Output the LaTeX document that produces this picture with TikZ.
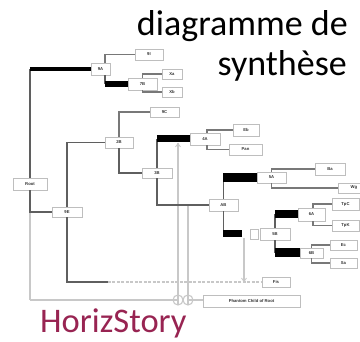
\documentclass[tikz,border=0pt]{standalone}
\usepackage{fontspec}
\setmainfont{Carlito}
\newfontfamily\boxfont{Liberation Sans}
\definecolor{hsred}{RGB}{152,36,82}
\definecolor{boxgray}{RGB}{190,190,190}
\definecolor{lndark}{RGB}{95,95,95}
\definecolor{lnmid}{RGB}{120,120,120}
\definecolor{lnlight}{RGB}{200,200,200}
\tikzset{
  bx/.style={draw=boxgray, line width=0.9pt, fill=white, inner sep=0pt,
    font=\boxfont\bfseries\fontsize{4.2}{4.2}\selectfont, text=black!80},
  lk/.style={draw=lndark, line width=1.6pt},
  lc/.style={draw=lnmid, line width=1.1pt},
  ph/.style={draw=lnlight, line width=1.1pt},
  phd/.style={draw=lnlight, line width=1.2pt, dash pattern=on 3pt off 1.5pt},
  bar/.style={draw=black, line cap=butt},
  title/.style={font=\fontsize{36}{40}\selectfont, text=black},
}
\begin{document}
\begin{tikzpicture}[x=1pt,y=-1pt]
\clip (0,0) rectangle (360,342);
\fill[white] (0,0) rectangle (360,342);

% titles
\node[title, anchor=base east, inner sep=0pt] (t1) at (348,36) {diagramme de};
\node[title, anchor=base east, inner sep=0pt] (t2) at (347,76) {synthèse};
\node[font=\fontsize{34.5}{38}\selectfont, text=hsred, anchor=base west, inner sep=0pt] (hs) at (40,332.5) {HorizStory};

% coordinates for junctions
\coordinate (j5B) at (242,233.5);
\coordinate (fisj) at (108,282);
\coordinate (c1) at (178,300);
\coordinate (c2) at (188,300);
\coordinate (p1top) at (178,143);
\coordinate (p2top) at (188,205);
\coordinate (p3top) at (244,238);
\coordinate (p3bot) at (244,282);
\coordinate (rootbot) at (30,300);

% phantom (light) connectors first
\draw[ph] (rootbot) -- (c1);
\draw[ph] (c2) -- (203,300);
\draw[ph] (30,212) -- (rootbot);
\draw[ph] (p1top) -- ([yshift=-5pt]c1);
\draw[ph] (p2top) -- ([yshift=-5pt]c2);
\draw[ph] (c1) circle (5pt);
\draw[ph] (c2) circle (5pt);
\draw[ph] (p3top) -- (p3bot);
\draw[ph, line width=0.8pt] (241.5,278) -- (244,281.5) -- (246.5,278);
\draw[ph, line width=0.8pt] (175.5,147) -- (178,143.5) -- (180.5,147);
\draw[phd] (fisj) -- (262,282);

% nodes
\node[bx, minimum width=34pt, minimum height=12pt] (root) at (30,184) {Root};
\node[bx, minimum width=19pt, minimum height=12pt] (n9A) at (100.5,69) {9A};
\node[bx, minimum width=28pt, minimum height=11pt] (n9I) at (149,54.5) {9I};
\node[bx, minimum width=29pt, minimum height=12pt] (n7B) at (142.5,84) {7B};
\node[bx, minimum width=20pt, minimum height=10pt] (nXa) at (172,74) {Xa};
\node[bx, minimum width=20pt, minimum height=10pt] (nXb) at (172,92) {Xb};
\node[bx, minimum width=29pt, minimum height=10pt] (n9C) at (164.5,112) {9C};
\node[bx, minimum width=28pt, minimum height=11pt] (n2B) at (119,142.5) {2B};
\node[bx, minimum width=30pt, minimum height=10pt] (n3B) at (157,173) {3B};
\node[bx, minimum width=30pt, minimum height=10pt] (n9E) at (67,212) {9E};
\node[bx, minimum width=30pt, minimum height=12pt] (n4A) at (205,139) {4A};
\node[bx, minimum width=26pt, minimum height=12pt] (nEb) at (246,130) {Eb};
\node[bx, minimum width=33pt, minimum height=11pt] (nPan) at (245.5,149.5) {Pan};
\node[bx, minimum width=29pt, minimum height=11pt] (n5A) at (271.5,177.5) {5A};
\node[bx, minimum width=30pt, minimum height=12pt] (nBa) at (330,169) {Ba};
\node[bx, minimum width=32pt, minimum height=10pt] (nWg) at (354,188) {Wg};
\node[bx, minimum width=29pt, minimum height=12pt] (nAB) at (223.5,205) {AB};
\node[bx, minimum width=27pt, minimum height=13pt] (n6A) at (311.5,214.5) {6A};
\node[bx, minimum width=27pt, minimum height=12pt] (nTpC) at (345.5,204) {TpC};
\node[bx, minimum width=27pt, minimum height=11pt] (nTpK) at (345.5,225.5) {TpK};
\node[bx, minimum width=8pt, minimum height=10pt] (mk) at (254,234) {};
\node[bx, minimum width=30pt, minimum height=12pt] (n5B) at (275,234) {5B};
\node[bx, minimum width=23pt, minimum height=10pt] (n6B) at (311.5,253) {6B};
\node[bx, minimum width=27pt, minimum height=10pt] (nEc) at (343.5,245) {Ec};
\node[bx, minimum width=27pt, minimum height=10pt] (nSa) at (343.5,263) {Sa};
\node[bx, minimum width=28pt, minimum height=10pt] (nFis) at (276,282) {Fis};
\node[bx, minimum width=97pt, minimum height=12pt] (nPh) at (251.5,301) {Phantom Child of Root};

% connectors
% Root -> 9A
\draw[lk] (root.north) -- (root.north |- n9A.west);
\draw[bar, line width=4pt] (root.north |- n9A.west) -- (n9A.west);
% 9A -> 9I, 7B
\draw[lc] ([xshift=4.5pt]n9A.north) |- (n9I.west);
\draw[lk] ([xshift=4.5pt]n9A.south) -- ([xshift=4.5pt]n9A.south |- n7B.west);
\draw[bar, line width=6pt] ([xshift=4.5pt]n9A.south |- n7B.west) -- (n7B.west);
% 7B -> Xa, Xb
\draw[lc] (n7B.north) |- (nXa.west);
\draw[lc] (n7B.south) |- (nXb.west);
% Root -> 9E
\draw[lk] (root.south) |- (n9E.west);
% 9E -> 2B
\draw[lk] (n9E.north) |- (n2B.west);
% 9E -> Fis
\draw[lk] (n9E.south) |- (fisj);
% 2B -> 9C, 3B
\draw[lc] (n2B.north) |- (n9C.west);
\draw[lk] (n2B.south) |- (n3B.west);
% 3B -> 4A
\draw[lk] (n3B.north) -- (n3B.north |- n4A.west);
\draw[bar, line width=7pt] (n3B.north |- n4A.west) -- (n4A.west);
% 3B -> AB
\draw[lk] (n3B.south) |- (nAB.west);
% 4A -> Eb, Pan
\draw[lc] ([xshift=2pt]n4A.north) |- (nEb.west);
\draw[lc] ([xshift=2pt]n4A.south) |- (nPan.west);
% AB -> 5A
\draw[lk] (nAB.north) -- (nAB.north |- n5A.west);
\draw[bar, line width=9pt] (nAB.north |- n5A.west) -- (n5A.west);
% 5A -> Ba, Wg
\draw[lc] (n5A.north) |- (nBa.west);
\draw[lc] (n5A.south) |- (nWg.west);
% AB -> 5B
\draw[lk] (nAB.south) -- (nAB.south |- j5B);
\draw[bar, line width=7pt] (nAB.south |- j5B) -- (j5B);
% 5B -> 6A, 6B
\draw[lk] (n5B.north) -- (n5B.north |- n6A.west);
\draw[bar, line width=8pt] (n5B.north |- n6A.west) -- (n6A.west);
\draw[lk] (n5B.south) -- (n5B.south |- n6B.west);
\draw[bar, line width=9pt] (n5B.south |- n6B.west) -- (n6B.west);
% 6A -> TpC, TpK
\draw[lc] ([xshift=1.5pt]n6A.north) |- (nTpC.west);
\draw[lc] ([xshift=1.5pt]n6A.south) |- (nTpK.west);
% 6B -> Ec, Sa
\draw[lc] (n6B.north) |- (nEc.west);
\draw[lc] (n6B.south) |- (nSa.west);
\end{tikzpicture}
\end{document}
